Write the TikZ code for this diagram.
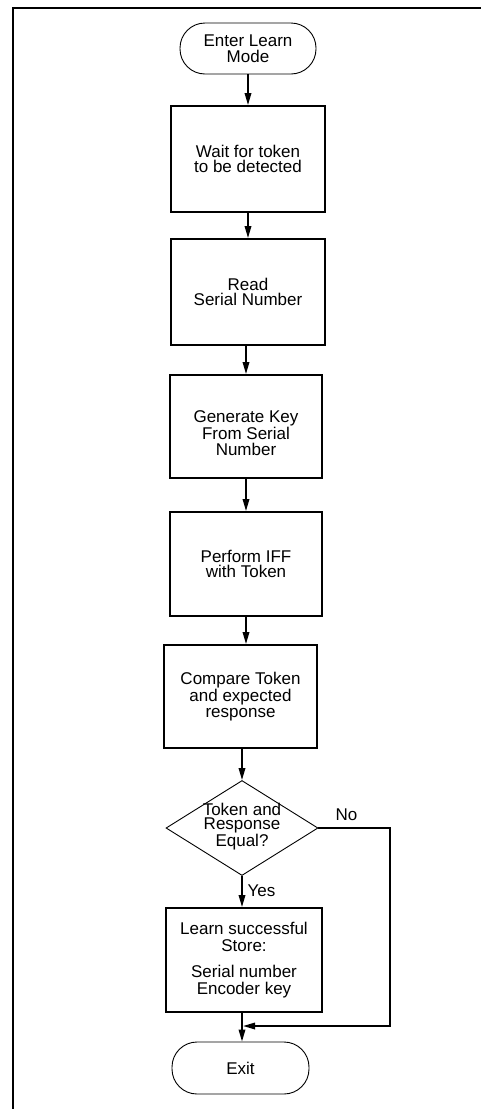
\documentclass[tikz,border=0pt]{standalone}
\usepackage{fontspec}
\setmainfont{Liberation Sans}
\usetikzlibrary{arrows.meta,shapes.geometric}
\begin{document}
\begin{tikzpicture}[x=1pt,y=-1pt,
  txt/.style={font=\fontsize{17}{15.5}\selectfont, align=center, text=black},
  procbox/.style={draw, line width=1.8pt, inner sep=0pt, txt},
  termbox/.style={draw, line width=0.9pt, rounded corners=25pt, inner sep=0pt, txt},
  flow/.style={line width=1.7pt, -{Triangle[length=12pt,width=6.5pt]}},
  lbl/.style={font=\fontsize{17}{17}\selectfont, anchor=base, text=black}]
\useasboundingbox (0,0) rectangle (480,1109);
\draw[line width=2.3pt] (13,1112) -- (13,7.8) -- (483,7.8);

\node[termbox, minimum width=136pt, minimum height=51pt] (start) at (248,48.5) {Enter Learn\\Mode};
\node[procbox, minimum width=154pt, minimum height=106pt] (b1) at (248,159) {Wait for token\\to be detected};
\node[procbox, minimum width=154pt, minimum height=106pt] (b2) at (248,292) {Read\\Serial Number};
\node[procbox, minimum width=152pt, minimum height=103pt] (b3) at (246,426.5) {};
\node[txt] (b3t) at (246,433) {Generate Key\\From Serial\\Number};
\node[procbox, minimum width=152pt, minimum height=104pt] (b4) at (246,564) {Perform IFF\\with Token};
\node[procbox, minimum width=153pt, minimum height=103pt] (b5) at (240.5,696.5) {Compare Token\\and expected\\response};
\node[draw, diamond, line width=0.9pt, minimum width=152pt, minimum height=95pt, inner sep=0pt] (dia) at (242,828) {};
\node[txt, font=\fontsize{17}{13.8}\selectfont] (q) at (242,826.5) {Token and\\Response\\Equal?};
\node[procbox, font=\fontsize{17}{17}\selectfont, minimum width=156pt, minimum height=104pt] (b6) at (244,960) {Learn successful\\Store:\\[9pt]Serial number\\Encoder key};
\node[termbox, minimum width=137pt, minimum height=52pt] (exit) at (240.5,1068) {Exit};

\coordinate (nocorner) at (390,1026);
\coordinate (join) at (242,1026);

\draw[flow] (start) -- (b1);
\draw[flow] (b1) -- (b2);
\draw[flow] (b3.north |- b2.south) -- (b3.north);
\draw[flow] (b3.south) -- (b4.north);
\draw[flow] (b4.south) -- (b4.south |- b5.north);
\draw[flow] (dia.north |- b5.south) -- (dia.north);
\draw[flow] (dia.south) -- (dia.south |- b6.north);
\draw[flow] (join |- b6.south) -- (join |- exit.north);
\draw[flow] (dia.east) -| (nocorner) -- ([xshift=1pt]join);

\node[lbl] (no) at (346.5,820) {No};
\node[lbl] (yes) at (261.5,896) {Yes};
\end{tikzpicture}
\end{document}
